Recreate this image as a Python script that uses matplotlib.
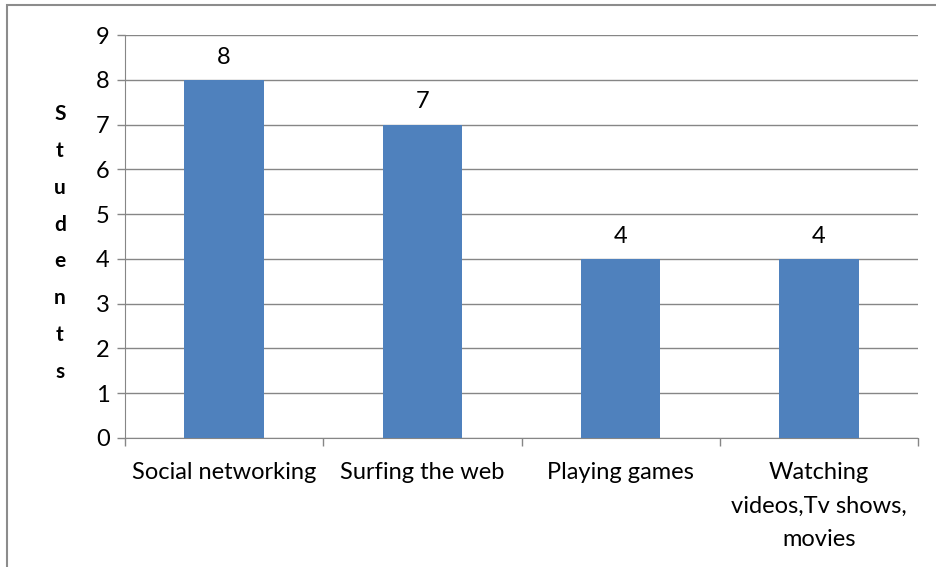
import matplotlib.pyplot as plt
from matplotlib.patches import Rectangle

categories = ['Social networking', 'Surfing the web', 'Playing games',
              'Watching\nvideos,Tv shows,\nmovies']
students = [8, 7, 4, 4]

plt.rcParams['font.family'] = ['Lato', 'DejaVu Sans']

fig = plt.figure(figsize=(9.36, 5.67), dpi=100)
ax = fig.add_axes([125 / 936, 1 - 438 / 567, 793 / 936, 403 / 567])

# Rahmen um das Diagramm (rechts/unten abgeschnitten wie im Original)
fig.patches.append(Rectangle((7 / 936, -0.1), 1.2, 1 - 5 / 567 + 0.1,
                             transform=fig.transFigure, fill=False,
                             edgecolor='#8c8c8c', linewidth=1.5))

x = range(len(categories))
bars = ax.bar(x, students, width=0.4, color='#4f81bd', zorder=3)
for xi, v in zip(x, students):
    ax.text(xi, v + 0.27, str(v), ha='center', va='bottom', fontsize=17)

ax.set_xlim(-0.5, 3.5)
ax.set_ylim(0, 9)
ax.set_yticks(range(10))
ax.yaxis.grid(True, color='#868686', linewidth=1, zorder=0)

ax.set_xticks(x)
ax.set_xticklabels(categories, fontsize=17, linespacing=1.75)
ax.tick_params(axis='x', which='major', length=0, pad=17)
ax.set_xticks([-0.5, 0.5, 1.5, 2.5, 3.5], minor=True)
ax.tick_params(axis='x', which='minor', length=6, color='#868686', width=1)
ax.tick_params(axis='y', length=6, color='#868686', width=1, labelsize=17, pad=5)

for side in ['top', 'right']:
    ax.spines[side].set_visible(False)
ax.spines['left'].set_color('#868686')
ax.spines['bottom'].set_color('#868686')

fig.text(60 / 936, 1 - 243 / 567, 'S\nt\nu\nd\ne\nn\nt\ns', ha='center', va='center',
         fontsize=15, fontweight='bold', linespacing=2.05)

plt.savefig('out.png', dpi=100)
plt.close()
